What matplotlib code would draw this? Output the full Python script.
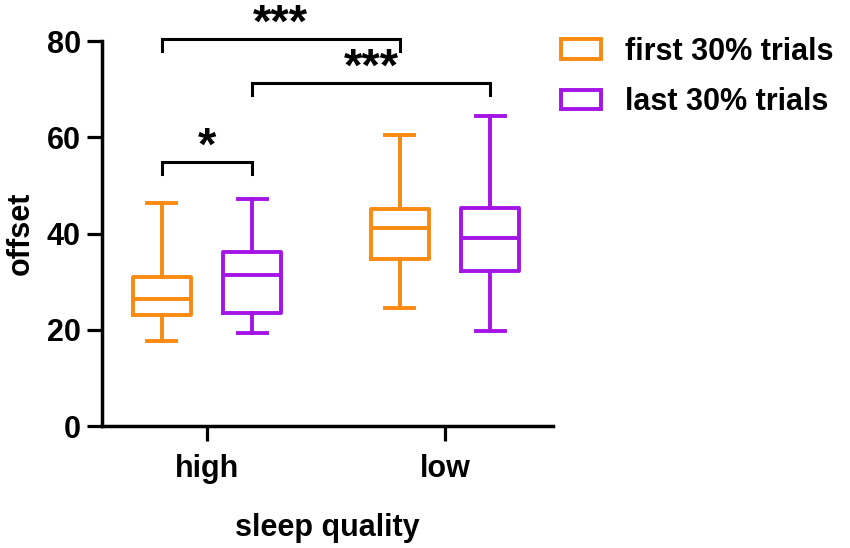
import matplotlib
matplotlib.use("Agg")
import matplotlib.pyplot as plt
from matplotlib.patches import Patch

plt.rcParams['font.family'] = ['Liberation Sans', 'DejaVu Sans']
plt.rcParams['font.weight'] = 'bold'

# donnees
groupes = ["high", "low"]
series = ["first 30% trials", "last 30% trials"]
couleurs = ["#F98A12", "#A514E6"]

# [whislo, q1, med, q3, whishi] pour chaque groupe
first_stats = [[17.7, 23.1, 26.5, 30.9, 46.4],
               [24.6, 34.8, 41.2, 45.1, 60.4]]
last_stats = [[19.3, 23.4, 31.4, 36.2, 47.2],
              [19.8, 32.2, 39.1, 45.4, 64.5]]

# comparaisons : (serie, groupe) -> (serie, groupe), hauteur, texte
comparaisons = [((0, 0), (0, 1), 80.4, "***"),
                ((1, 0), (1, 1), 71.2, "***"),
                ((0, 0), (1, 0), 54.8, "*")]

decalage = 0.19
largeur = 0.244

fig = plt.figure(figsize=(8.5, 5.48), dpi=100)
ax = fig.add_axes([0.1196, 0.2226, 0.5304, 0.7024])

def position(s, g):
    return g + (-decalage if s == 0 else decalage)

for s, donnees in enumerate([first_stats, last_stats]):
    stats = []
    for g, v in enumerate(donnees):
        stats.append({"whislo": v[0], "q1": v[1], "med": v[2], "q3": v[3],
                      "whishi": v[4], "fliers": []})
    pos = [position(s, g) for g in range(len(groupes))]
    style = dict(color=couleurs[s], linewidth=2.8)
    ax.bxp(stats, positions=pos, widths=largeur, showfliers=False,
           boxprops=style, whiskerprops=style, capprops=style,
           medianprops=style, manage_ticks=False)

# crochets de significativite
for a, b, h, txt in comparaisons:
    x1 = position(*a)
    x2 = position(*b)
    ax.plot([x1, x1, x2, x2], [h - 2.5, h, h, h - 2.5], color="black",
            linewidth=2.2, clip_on=False, solid_joinstyle="miter")
    ax.text((x1 + x2) / 2, h - 1.6, txt, ha="center", va="bottom",
            fontsize=34, fontweight="bold", clip_on=False)

ax.set_xlim(-0.442, 1.452)
ax.set_ylim(0, 80)
ax.set_yticks([0, 20, 40, 60, 80])
ax.set_xticks(range(len(groupes)))
ax.set_xticklabels(groupes)
ax.spines["top"].set_visible(False)
ax.spines["right"].set_visible(False)
for sp in ["left", "bottom"]:
    ax.spines[sp].set_linewidth(2.5)
ax.tick_params(axis="both", width=2.3, length=11, labelsize=22)
ax.tick_params(axis="x", pad=9)
ax.tick_params(axis="y", pad=4)

ax.set_xlabel("sleep quality", fontsize=22, fontweight="bold", labelpad=21)
ax.set_ylabel("offset", fontsize=22, fontweight="bold", labelpad=8)

poignees = [Patch(facecolor="white", edgecolor=c, linewidth=2.8) for c in couleurs]
fig.legend(poignees, series, loc="upper left", bbox_to_anchor=(0.660, 0.933),
           frameon=False, fontsize=22, handlelength=1.3, handleheight=0.6,
           handletextpad=0.8, labelspacing=0.68, borderpad=0, borderaxespad=0)

plt.savefig("out.png", dpi=100)
